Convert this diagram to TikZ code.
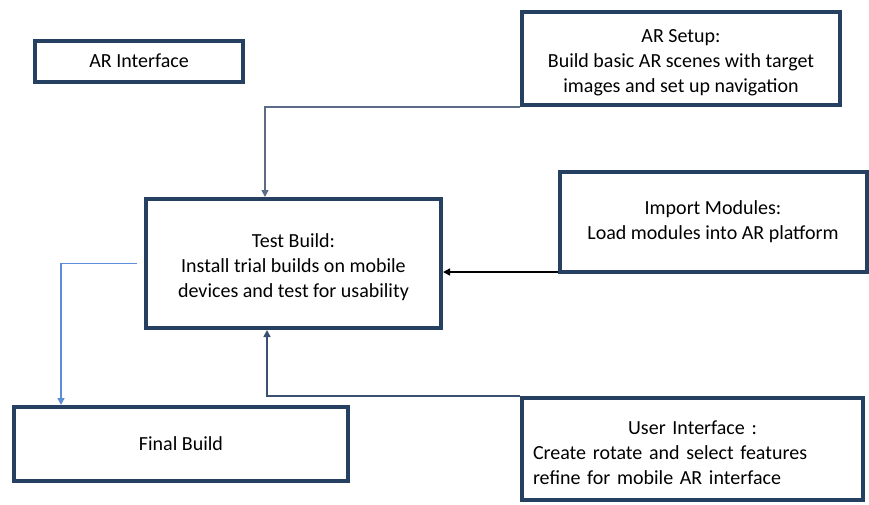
\documentclass[tikz,border=0pt]{standalone}
\usepackage{fontspec}
\setmainfont{Carlito}
\usepackage{tikz}
\usetikzlibrary{arrows.meta, positioning}
\definecolor{boxnavy}{RGB}{38,64,97}
\definecolor{linkgray}{RGB}{92,108,136}
\definecolor{linknavy}{RGB}{58,80,114}
\definecolor{linkblue}{RGB}{91,142,214}
\newcommand\droptext{\rule{0pt}{22pt}}
\tikzset{
    stage/.style={draw=boxnavy, line width=4pt, fill=white, align=center,
        font=\fontsize{20}{25}\selectfont, inner sep=0pt},
    link/.style={line width=1.5pt, ->},
}

\begin{document}
\begin{tikzpicture}[x=1pt, y=-1pt, >={Triangle[length=7pt, width=7pt]}]
    \useasboundingbox (0,0) rectangle (869,504);

    \node[stage, minimum width=208pt, minimum height=41pt] (interface) at (139,61) {AR Interface};
    \node[stage, minimum width=318pt, minimum height=93pt] (setup) at (681,58.5) {\droptext AR Setup:\\Build basic AR scenes with target\\images and set up navigation};
    \node[stage, minimum width=295pt, minimum height=129pt] (test) at (293.5,263.5) {\droptext Test Build:\\Install trial builds on mobile\\devices and test for usability};
    \node[stage, minimum width=307pt, minimum height=100pt] (import) at (713,222) {Import Modules:\\Load modules into AR platform};
    \node[stage, minimum width=334pt, minimum height=74pt] (final) at (181,444) {Final Build};
    \node[stage, minimum width=341pt, minimum height=102pt, text width=319pt, align=left] (ui) at (692.5,449)
        {\droptext\hfil User Interface :\hfil\\Create rotate and select features\\refine for mobile AR interface};

    \draw[link, linkgray] (setup.south west) -| ([xshift=-28.5pt]test.north);
    \draw[link, black] ([yshift=-50pt]import.west) coordinate (imp) -- (imp -| test.east);
    \draw[link, linknavy] (ui.north west) -| ([xshift=-26.5pt]test.south);
    \draw[link, linkblue] ([xshift=-7pt]test.west) -| ([xshift=-120pt]final.north);
\end{tikzpicture}
\end{document}
